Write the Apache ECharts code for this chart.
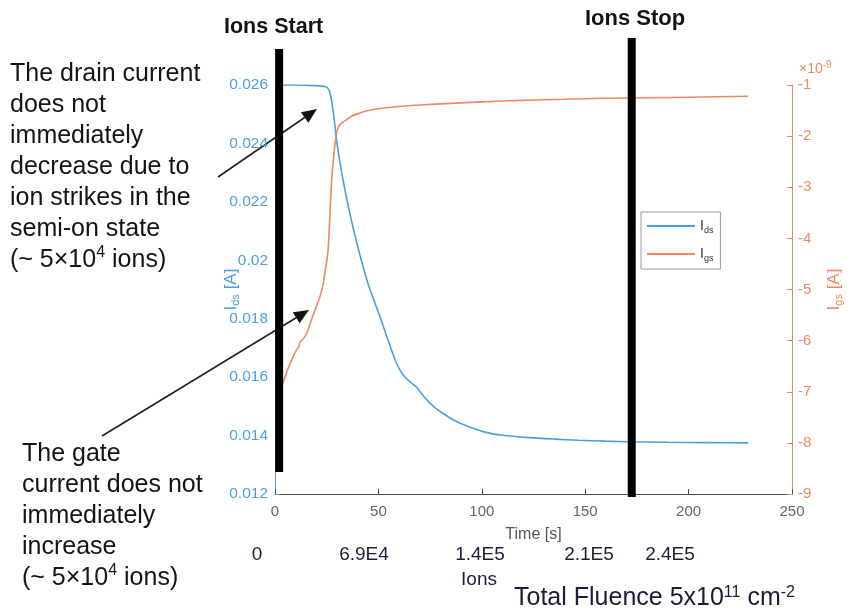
<!DOCTYPE html>
<html>
<head>
<meta charset="utf-8">
<script src="https://cdn.jsdelivr.net/npm/echarts@6/dist/echarts.min.js"></script>
<style>
  html, body { margin: 0; padding: 0; background: #ffffff; }
  #chart { width: 852px; height: 613px; }
</style>
</head>
<body>
<div id="chart"></div>
<script>
// Drain current I_ds [A] versus time [s]
const idsTime = [0, 5, 10, 15, 20, 24, 25.5, 26.5, 27.5, 28.5, 29.9, 32, 34.7, 37.5, 41, 45, 48, 50.6, 54, 58.6, 62, 66, 68.4, 71, 74, 78, 82, 87.7, 95, 102.1, 110, 122.8, 135, 146.9, 160, 171, 190, 210, 228.8];
const idsValue = [0.02600, 0.02600, 0.02600, 0.02599, 0.02598, 0.02595, 0.02590, 0.02575, 0.02540, 0.02490, 0.02405, 0.02310, 0.02210, 0.02120, 0.02020, 0.01920, 0.01860, 0.01810, 0.01740, 0.01650, 0.01607, 0.01580, 0.01566, 0.01542, 0.01518, 0.01492, 0.01472, 0.01448, 0.01427, 0.01411, 0.01401, 0.01393, 0.01388, 0.01384, 0.01381, 0.01379, 0.01377, 0.01376, 0.01375];

// Gate current I_gs in units of 1e-9 A
const igsTime = [3.2, 4.5, 6, 8, 10.4, 11.5, 12.2, 13, 15.3, 18, 20, 21.7, 23, 24.1, 25, 25.7, 26.5, 27.3, 28.5, 29.7, 31, 33, 34.5, 37, 40.9, 45, 49, 55, 60, 70, 85, 100, 120, 140, 160, 180, 200, 228.8];
const igsValue = [-6.90, -6.75, -6.58, -6.38, -6.18, -6.12, -6.02, -6.00, -5.86, -5.55, -5.33, -5.14, -4.95, -4.68, -4.45, -4.22, -3.60, -2.92, -2.35, -1.94, -1.80, -1.72, -1.68, -1.61, -1.55, -1.50, -1.47, -1.44, -1.42, -1.39, -1.36, -1.33, -1.30, -1.28, -1.26, -1.25, -1.24, -1.22];

// Axis ranges and tick steps
const timeRange = [0, 250];
const timeStep = 50;
const idsRange = [0.012, 0.026];
const idsStep = 0.002;
const igsRange = [-9, -1];
const igsStep = 1;

// Ion beam on / off instants [s] and the I_ds span of each marker bar
const ionStartTime = 2;
const ionStopTime = 172.5;
const ionStartSpan = [0.01275, 0.02723];
const ionStopSpan = [0.01190, 0.02761];

// Cumulative ion counts written under the time axis
const ionCountLabels = ['0', '6.9E4', '1.4E5', '2.1E5', '2.4E5'];

const BLUE = '#4d9fdc';
const ORANGE = '#ee8a63';
const INK = '#141414';
const NAVY = '#1c1c38';
const FONT = '"Liberation Sans", Arial, sans-serif';

const zip = (xs, ys) => xs.map((x, i) => [x, ys[i]]);

function arrow(x1, y1, x2, y2) {
  const dx = x2 - x1, dy = y2 - y1;
  const len = Math.hypot(dx, dy);
  const ux = dx / len, uy = dy / len;
  const L = 15, W = 6.5;
  const bx = x2 - ux * L, by = y2 - uy * L;
  return [
    { type: 'line', shape: { x1: x1, y1: y1, x2: bx, y2: by }, style: { stroke: '#222', lineWidth: 1.6 } },
    { type: 'polygon', shape: { points: [[x2, y2], [bx - uy * W, by + ux * W], [bx + uy * W, by - ux * W]] }, style: { fill: '#111' } }
  ];
}

function countText(text, x, y) {
  return { type: 'text', x: x, y: y, style: { text: text, font: '19px ' + FONT, fill: NAVY, align: 'center', verticalAlign: 'middle' } };
}

const chart = echarts.init(document.getElementById('chart'), null, { renderer: 'canvas' });

const supRich = {
  sup: { fontSize: 16, fontFamily: FONT, color: INK, verticalAlign: 'top', padding: [0, 0, 10, 0] }
};

const option = {
  animation: false,
  backgroundColor: '#ffffff',
  grid: { left: 275, right: 58, top: 85, bottom: 119, containLabel: false },
  legend: {
    data: ['Ids', 'Igs'],
    orient: 'vertical',
    left: 641,
    top: 212,
    backgroundColor: '#ffffff',
    borderColor: '#9a9a9a',
    borderWidth: 1,
    borderRadius: 0,
    padding: [7, 7, 6, 6],
    itemGap: 12,
    itemWidth: 48,
    itemHeight: 2,
    icon: 'rect',
    formatter: function (name) {
      return name === 'Ids' ? '{m|I}{s|ds}' : '{m|I}{s|gs}';
    },
    textStyle: {
      color: '#333',
      rich: {
        m: { fontSize: 14, fontFamily: FONT, color: '#333' },
        s: { fontSize: 9, fontFamily: FONT, color: '#333', padding: [9, 0, 0, 0] }
      }
    }
  },
  xAxis: {
    type: 'value',
    min: timeRange[0],
    max: timeRange[1],
    interval: timeStep,
    name: 'Time [s]',
    nameLocation: 'middle',
    nameGap: 33,
    nameTextStyle: { color: '#555', fontSize: 16, fontFamily: FONT },
    axisLine: { show: true, lineStyle: { color: '#4a4a4a', width: 1 } },
    axisTick: { show: true, inside: true, length: 5, lineStyle: { color: '#4a4a4a' } },
    axisLabel: { color: '#666', fontSize: 15, fontFamily: FONT, margin: 10 },
    splitLine: { show: false }
  },
  yAxis: [
    {
      type: 'value',
      position: 'left',
      min: idsRange[0],
      max: idsRange[1],
      interval: idsStep,
      name: '{m|I}{s|ds}{m| [A]}',
      nameLocation: 'middle',
      nameRotate: 90,
      nameGap: 34,
      nameMoveOverlap: false,
      nameTextStyle: {
        rich: {
          m: { fontSize: 17, fontFamily: FONT, color: BLUE },
          s: { fontSize: 11, fontFamily: FONT, color: BLUE, padding: [9, 0, 0, 0] }
        }
      },
      axisLine: { show: true, lineStyle: { color: BLUE, width: 1 } },
      axisTick: { show: true, inside: true, length: 5, lineStyle: { color: BLUE } },
      axisLabel: {
        color: BLUE, fontSize: 15.5, fontFamily: FONT, margin: 7,
        formatter: v => String(parseFloat(v.toFixed(3)))
      },
      splitLine: { show: false }
    },
    {
      type: 'value',
      position: 'right',
      min: igsRange[0],
      max: igsRange[1],
      interval: igsStep,
      name: '{m|I}{s|gs}{m| [A]}',
      nameLocation: 'middle',
      nameRotate: 90,
      nameGap: 32,
      nameMoveOverlap: false,
      nameTextStyle: {
        rich: {
          m: { fontSize: 17, fontFamily: FONT, color: ORANGE },
          s: { fontSize: 11, fontFamily: FONT, color: ORANGE, padding: [9, 0, 0, 0] }
        }
      },
      axisLine: { show: true, lineStyle: { color: ORANGE, width: 1 } },
      axisTick: { show: true, inside: true, length: 5, lineStyle: { color: ORANGE } },
      axisLabel: { color: ORANGE, fontSize: 15, fontFamily: FONT, margin: 6 },
      splitLine: { show: false }
    }
  ],
  series: [
    {
      name: 'Ids',
      type: 'line',
      yAxisIndex: 0,
      data: zip(idsTime, idsValue),
      showSymbol: false,
      symbol: 'none',
      smooth: 0.25,
      lineStyle: { color: BLUE, width: 1.6 },
      itemStyle: { color: BLUE },
      z: 3
    },
    {
      name: 'Igs',
      type: 'line',
      yAxisIndex: 1,
      data: zip(igsTime, igsValue),
      showSymbol: false,
      symbol: 'none',
      smooth: 0.25,
      lineStyle: { color: ORANGE, width: 1.6 },
      itemStyle: { color: ORANGE },
      z: 3
    },
    {
      name: 'ionStartBar',
      type: 'line',
      yAxisIndex: 0,
      data: ionStartSpan.map(v => [ionStartTime, v]),
      symbol: 'none',
      clip: false,
      silent: true,
      lineStyle: { color: '#000', width: 8 },
      z: 6
    },
    {
      name: 'ionStopBar',
      type: 'line',
      yAxisIndex: 0,
      data: ionStopSpan.map(v => [ionStopTime, v]),
      symbol: 'none',
      clip: false,
      silent: true,
      lineStyle: { color: '#000', width: 8 },
      z: 6
    }
  ],
  graphic: [
    // beam markers
    { type: 'text', left: 224, top: 16, style: { text: 'Ions Start', font: 'bold 21.5px ' + FONT, fill: INK } },
    { type: 'text', left: 585, top: 8, style: { text: 'Ions Stop', font: 'bold 22px ' + FONT, fill: INK } },
    // exponent of the gate current axis
    {
      type: 'text', left: 799, top: 60,
      style: {
        text: '×10{e|-9}', font: '14px ' + FONT, fill: ORANGE,
        rich: { e: { fontSize: 10, fontFamily: FONT, color: ORANGE, verticalAlign: 'top', padding: [0, 0, 8, 0] } }
      }
    },
    // explanatory notes
    {
      type: 'text', left: 10, top: 59,
      style: {
        text: 'The drain current\ndoes not\nimmediately\ndecrease due to\nion strikes in the\nsemi-on state\n(~ 5×10{sup|4} ions)',
        font: '25px ' + FONT, fill: INK, lineHeight: 31, rich: supRich
      }
    },
    {
      type: 'text', left: 22, top: 439,
      style: {
        text: 'The gate\ncurrent does not\nimmediately\nincrease\n(~ 5×10{sup|4} ions)',
        font: '25px ' + FONT, fill: INK, lineHeight: 31, rich: supRich
      }
    },
    ...arrow(218, 177, 317, 109),
    ...arrow(102, 436, 309, 310),
    // cumulative ion counts
    countText(ionCountLabels[0], 257, 555),
    countText(ionCountLabels[1], 364, 555),
    countText(ionCountLabels[2], 480, 555),
    countText(ionCountLabels[3], 589, 555),
    countText(ionCountLabels[4], 670, 555),
    countText('Ions', 479, 580),
    {
      type: 'text', left: 514, top: 585,
      style: {
        text: 'Total Fluence 5x10{p|11} cm{p|-2}', font: '25px ' + FONT, fill: NAVY,
        rich: { p: { fontSize: 16, fontFamily: FONT, color: NAVY, verticalAlign: 'top', padding: [0, 0, 10, 0] } }
      }
    }
  ]
};

chart.setOption(option);
</script>
</body>
</html>
